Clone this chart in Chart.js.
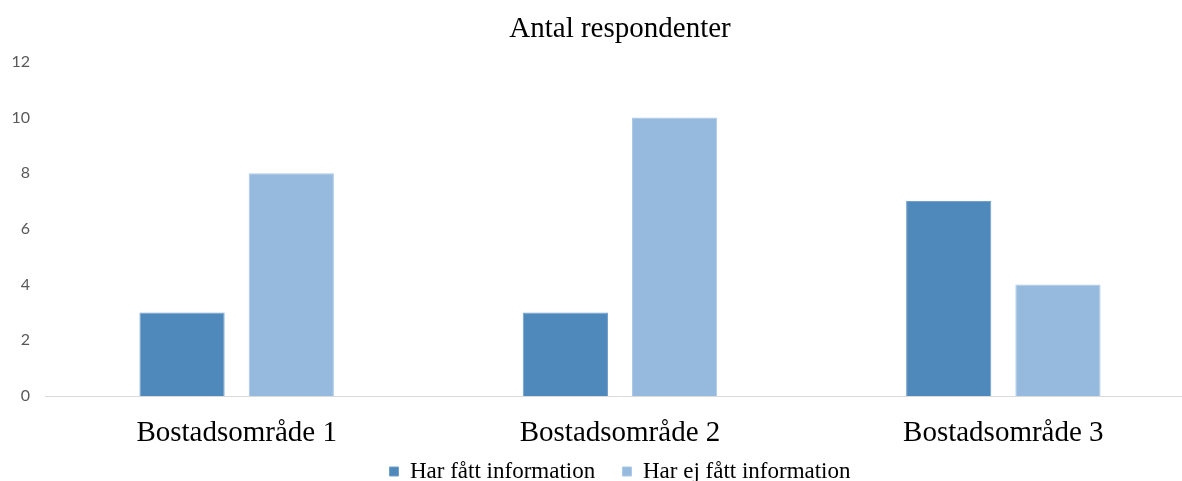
<!DOCTYPE html>
<html>
<head>
<meta charset="utf-8">
<script src="https://cdn.jsdelivr.net/npm/chart.js@4/dist/chart.umd.min.js"></script>
<style>
  html, body { margin: 0; padding: 0; background: #fff; overflow: hidden; }
  #wrap { width: 1182px; height: 481px; overflow: hidden; }
</style>
</head>
<body>
<div id="wrap"><canvas id="myChart" width="1200" height="495"></canvas></div>
<script>
const categories = ['Bostadsområde 1', 'Bostadsområde 2', 'Bostadsområde 3'];
const harFatt = [3, 3, 7];
const harEjFatt = [8, 10, 4];
const yTicks = [0, 2, 4, 6, 8, 10, 12];

const myChartElement = document.getElementById('myChart');
const serif = '"Liberation Serif", "DejaVu Serif", serif';

let myDataset = [
  {
    label: 'Har fått information',
    data: harFatt,
    backgroundColor: 'rgb(79, 136, 187)',
    borderColor: 'rgb(112, 160, 205)',
    borderWidth: 1,
    categoryPercentage: 0.57,
    barPercentage: 0.78
  },
  {
    label: 'Har ej fått information',
    data: harEjFatt,
    backgroundColor: 'rgb(150, 185, 222)',
    borderColor: 'rgb(170, 200, 232)',
    borderWidth: 1,
    categoryPercentage: 0.57,
    barPercentage: 0.78
  }
];

let myOptions = {
  responsive: false,
  animation: false,
  layout: { padding: { right: 5, bottom: 2 } },
  plugins: {
    title: {
      display: true,
      text: 'Antal respondenter',
      fullSize: false,
      color: '#000',
      font: { family: serif, size: 29, weight: 'normal' },
      padding: { top: 12, bottom: 15 }
    },
    legend: {
      position: 'bottom',
      fullSize: false,
      labels: {
        color: '#000',
        boxWidth: 9,
        boxHeight: 9,
        padding: 10,
        font: { family: serif, size: 23 },
        generateLabels: function (chart) {
          let items = Chart.defaults.plugins.legend.labels.generateLabels(chart);
          // a bit more room between the two entries
          items[0].text = items[0].text + '   ';
          return items;
        }
      }
    },
    tooltip: { enabled: false }
  },
  scales: {
    y: {
      min: 0,
      max: 12,
      afterFit: function (scale) { scale.width = 45; },
      afterBuildTicks: function (scale) {
        scale.ticks = yTicks.map(v => ({ value: v }));
      },
      grid: { display: false, drawTicks: false },
      border: { display: false },
      ticks: {
        color: '#595959',
        padding: 15,
        font: { family: 'Lato, "Open Sans", sans-serif', size: 16 }
      }
    },
    x: {
      afterFit: function (scale) { scale.height = 54; },
      grid: { display: false, drawTicks: false },
      border: { display: true, color: '#d9d9d9', width: 1 },
      ticks: {
        color: '#000',
        padding: 20,
        font: { family: serif, size: 29 }
      }
    }
  }
};

let myChart = new Chart(myChartElement, {
  type: 'bar',
  data: {
    labels: categories,
    datasets: myDataset
  },
  options: myOptions
});
</script>
</body>
</html>
